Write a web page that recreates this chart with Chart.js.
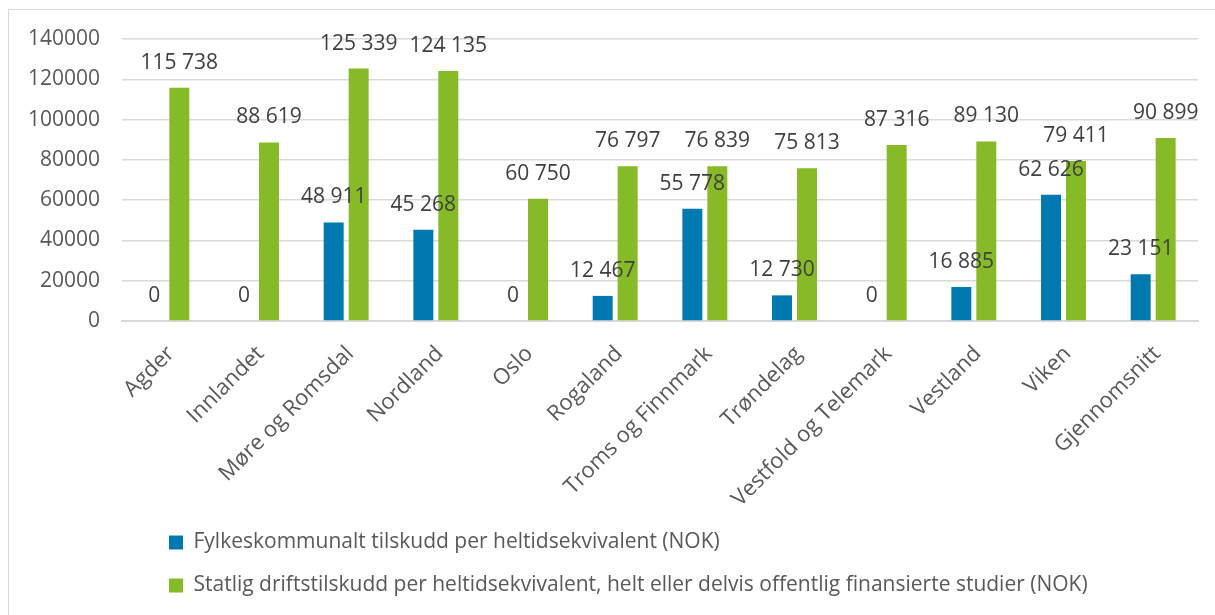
<!DOCTYPE html>
<html>
<head>
<meta charset="utf-8">
<script src="https://cdn.jsdelivr.net/npm/chart.js@4"></script>
<style>
  html, body { margin: 0; padding: 0; background: #fff; overflow: hidden; }
  #frame {
    position: absolute; left: 8px; top: 9px;
    width: 1215px; height: 615px;
    border: 1px solid #d9d9d9; box-sizing: border-box;
  }
  #chart { display: block; }
</style>
</head>
<body>
<div id="frame"><canvas id="chart" width="1213" height="613"></canvas></div>
<script>
// categories
const regions = ["Agder", "Innlandet", "Møre og Romsdal", "Nordland", "Oslo", "Rogaland",
  "Troms og Finnmark", "Trøndelag", "Vestfold og Telemark", "Vestland", "Viken", "Gjennomsnitt"];

// series values (NOK)
const fylkeTilskudd = [0, 0, 48911, 45268, 0, 12467, 55778, 12730, 0, 16885, 62626, 23151];
const statligTilskudd = [115738, 88619, 125339, 124135, 60750, 76797, 76839, 75813, 87316, 89130, 79411, 90899];

// legend texts
const seriesNames = [
  "Fylkeskommunalt tilskudd per heltidsekvivalent (NOK)",
  "Statlig driftstilskudd per heltidsekvivalent, helt eller delvis offentlig finansierte studier (NOK)"
];

// y axis ticks
const yMax = 140000;
const yStep = 20000;

const font = "'Open Sans', 'DejaVu Sans', sans-serif";

// value labels above each bar, "12 345" style
function fmt(v) {
  return String(v).replace(/\B(?=(\d{3})+(?!\d))/g, " ");
}

const valueLabels = {
  id: "valueLabels",
  afterDatasetsDraw(chart) {
    const ctx = chart.ctx;
    ctx.save();
    ctx.font = "21px " + font;
    ctx.fillStyle = "#404040";
    ctx.textAlign = "center";
    ctx.textBaseline = "middle";
    chart.data.datasets.forEach((ds, i) => {
      chart.getDatasetMeta(i).data.forEach((bar, j) => {
        ctx.fillText(fmt(ds.data[j]), bar.x, bar.y - 25);
      });
    });
    ctx.restore();
  }
};

// legend sits left-aligned under the plot, not at the canvas edge
const shiftLegend = {
  id: "shiftLegend",
  afterLayout(chart) {
    chart.legend.left = 138;
  }
};

new Chart(document.getElementById("chart"), {
  type: "bar",
  data: {
    labels: regions,
    datasets: [
      {
        label: seriesNames[0],
        data: fylkeTilskudd,
        backgroundColor: "#0079b0"
      },
      {
        label: seriesNames[1],
        data: statligTilskudd,
        backgroundColor: "#86bb27"
      }
    ]
  },
  options: {
    responsive: false,
    animation: false,
    categoryPercentage: 0.557,
    barPercentage: 0.8,
    layout: {
      padding: { left: 19, right: 24, top: 29, bottom: 17 }
    },
    plugins: {
      legend: {
        position: "bottom",
        align: "start",
        labels: {
          boxWidth: 14,
          boxHeight: 14,
          padding: 22,
          color: "#595959",
          font: { family: font, size: 21 }
        }
      },
      tooltip: { enabled: false }
    },
    scales: {
      x: {
        grid: { display: false },
        border: { color: "#d9d9d9", width: 2 },
        ticks: {
          color: "#595959",
          font: { family: font, size: 22 },
          maxRotation: 45,
          minRotation: 45,
          padding: 12,
          labelOffset: 4
        },
        afterFit(scale) {
          scale.height = 189;
        }
      },
      y: {
        min: 0,
        max: yMax,
        grid: { color: "#d9d9d9", lineWidth: 1.5, drawTicks: false },
        border: { display: false },
        ticks: {
          stepSize: yStep,
          color: "#595959",
          font: { family: font, size: 21 },
          padding: 22,
          callback: (v) => String(v)
        },
        afterFit(scale) {
          scale.width = 94;
          scale.paddingTop = 0;
          scale.paddingBottom = 0;
        }
      }
    }
  },
  plugins: [valueLabels, shiftLegend]
});
</script>
</body>
</html>
